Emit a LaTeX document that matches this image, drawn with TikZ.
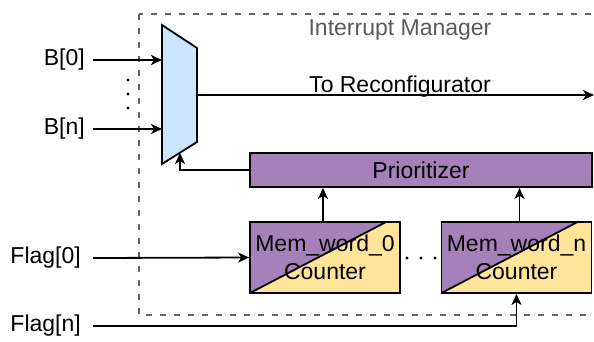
\documentclass[tikz,border=0pt]{standalone}
\usepackage{fontspec}
\setmainfont{Liberation Sans}
\usetikzlibrary{arrows.meta,calc}
\definecolor{muxblue}{HTML}{CCE5FF}
\definecolor{mpurple}{HTML}{A680B8}
\definecolor{myellow}{HTML}{FFE599}
\definecolor{dgray}{HTML}{666666}
\definecolor{tgray}{HTML}{5A5A5A}
\tikzset{
  arr/.style={line width=1.8pt,-{Stealth[length=11pt,width=10pt,inset=3pt]}},
  wire/.style={line width=1.8pt},
  lbl/.style={inner sep=0pt,font=\fontsize{23}{28}\selectfont},
  prio/.style={draw,line width=1.8pt,fill=mpurple,minimum width=342pt,minimum height=34pt,inner sep=0pt,font=\fontsize{23}{28}\selectfont},
  memblock/.style={draw,line width=1.8pt,fill=myellow,minimum width=150pt,minimum height=71pt,inner sep=0pt,align=center,
    font=\fontsize{23}{28}\selectfont,
    path picture={
      \fill[mpurple] (path picture bounding box.south west) -- (path picture bounding box.north west)
        -- ([xshift=-14pt]path picture bounding box.north east) -- cycle;
      \draw[line width=1.8pt] (path picture bounding box.south west) -- ([xshift=-14pt]path picture bounding box.north east);
    }},
  dotmark/.style={circle,fill=black,inner sep=0pt,minimum size=3.2pt},
}
\begin{document}
\begin{tikzpicture}[x=1pt,y=-1pt]
\useasboundingbox (0,0) rectangle (594,341);
\clip (0,0) rectangle (594,341);
% dashed container
\draw[dgray,line width=1.8pt,dash pattern=on 6pt off 8pt] (139,14) rectangle (610,315);
\node[lbl,text=tgray,anchor=base] (title) at (400,35) {Interrupt Manager};
% mux
\coordinate (m1) at (162,25);
\coordinate (m2) at (197,48);
\coordinate (m3) at (197,142);
\coordinate (m4) at (162,164);
\draw[line width=1.8pt,fill=muxblue] (m1) -- (m2) -- (m3) -- (m4) -- cycle;
\coordinate (muxin0) at (162,60);
\coordinate (muxinn) at (162,129);
\coordinate (muxout) at (197,95);
\coordinate (muxsel) at (180,153);
% inputs
\node[lbl,anchor=east] (b0) at (85,60) {B[0]};
\node[lbl,anchor=east] (bn) at (85,129) {B[n]};
\coordinate (b0s) at (93,60);
\coordinate (bns) at (93,129);
\draw[arr] (b0s) -- (muxin0);
\draw[arr] (bns) -- (muxinn);
\node[dotmark] (d1) at (128,80) {};
\node[dotmark] (d2) at (128,94) {};
\node[dotmark] (d3) at (128,108) {};
% output
\coordinate (outend) at (594,95);
\draw[arr] (muxout) -- (outend);
\node[lbl,anchor=base] (tolbl) at (400,92) {To Reconfigurator};
% prioritizer
\node[prio] (prio) at (421,170) {Prioritizer};
\draw[arr] (prio.west) -| (muxsel);
% mem blocks
\node[memblock] (mem0) at (325,257.5) {Mem\_word\_0\\Counter};
\node[memblock] (memn) at (516.5,257.5) {Mem\_word\_n\\Counter};
\draw[arr] ([xshift=-2pt]mem0.north) -- ([xshift=-2pt]mem0.north |- prio.south);
\draw[arr] ([xshift=3pt]memn.north) -- ([xshift=3pt]memn.north |- prio.south);
\node[dotmark] (e1) at (407,258) {};
\node[dotmark] (e2) at (421,258) {};
\node[dotmark] (e3) at (435,258) {};
% flags
\node[lbl,anchor=east] (f0) at (81,258) {Flag[0]};
\node[lbl,anchor=east] (fn) at (81,326) {Flag[n]};
\coordinate (f0s) at (93,258);
\coordinate (fns) at (93,326);
\draw[arr] (f0s) -- (mem0.west);
\draw[arr] (fns) -| (memn.south);
\end{tikzpicture}
\end{document}
